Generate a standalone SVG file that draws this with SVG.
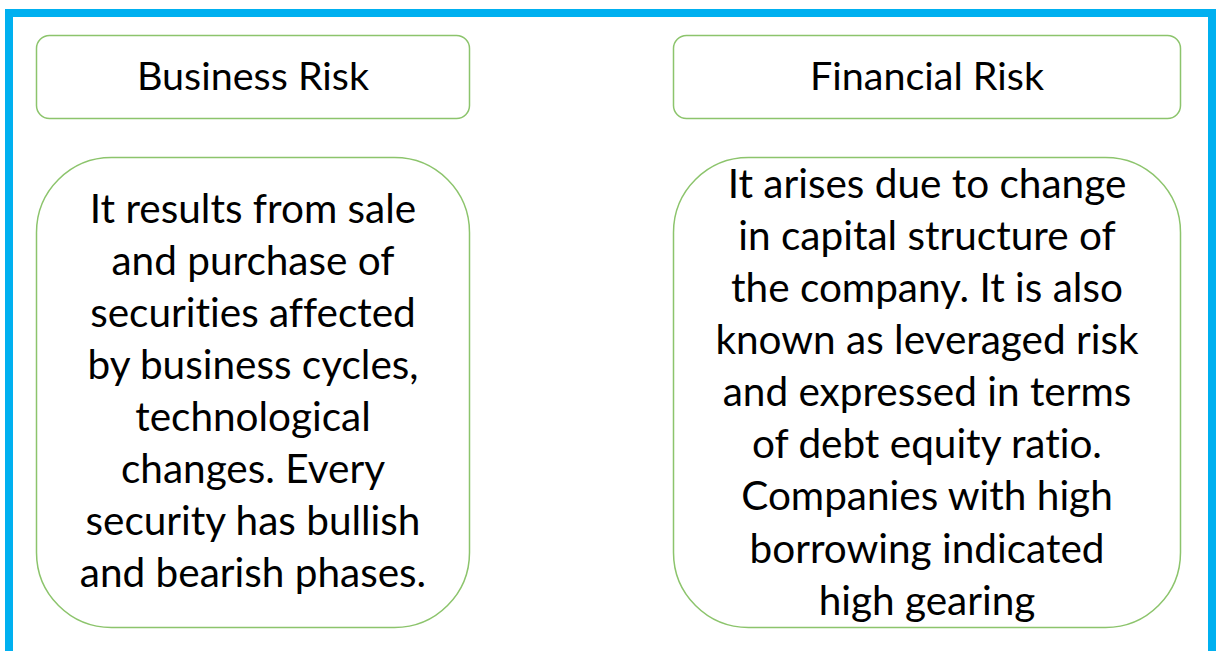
<svg xmlns="http://www.w3.org/2000/svg" width="1216" height="651" viewBox="0 0 1216 651">
<style>
.box{fill:#ffffff;stroke:#8cc46c;stroke-width:1.5}
.t{font-family:Lato,"Liberation Sans",sans-serif;fill:#000000;text-anchor:middle;font-variant-ligatures:none}
.title{font-size:39.5px}
.body{font-size:40.5px}
</style>
<rect x="0" y="0" width="1216" height="651" fill="#ffffff"/>
<rect x="9" y="13" width="1203" height="642" fill="none" stroke="#00b0f0" stroke-width="8"/>
<g id="business-risk-title">
<rect class="box" x="36.5" y="35.5" width="433" height="83" rx="13"/>
<text class="t title" x="253" y="90">Business Risk</text>
</g>
<g id="financial-risk-title">
<rect class="box" x="673.5" y="35.5" width="507" height="83" rx="13"/>
<text class="t title" x="927" y="90">Financial Risk</text>
</g>
<g id="business-risk-desc">
<rect class="box" x="36.5" y="157.5" width="433" height="470" rx="75"/>
<text class="t body" x="253" y="223">It results from sale</text>
<text class="t body" x="253" y="275">and purchase of</text>
<text class="t body" x="253" y="327">securities affected</text>
<text class="t body" x="253" y="379">by business cycles,</text>
<text class="t body" x="253" y="431">technological</text>
<text class="t body" x="253" y="483">changes. Every</text>
<text class="t body" x="253" y="535">security has bullish</text>
<text class="t body" x="253" y="587">and bearish phases.</text>
</g>
<g id="financial-risk-desc">
<rect class="box" x="673.5" y="157.5" width="507" height="470" rx="75"/>
<text class="t body" x="927" y="198">It arises due to change</text>
<text class="t body" x="927" y="250">in capital structure of</text>
<text class="t body" x="927" y="302">the company. It is also</text>
<text class="t body" x="927" y="354">known as leveraged risk</text>
<text class="t body" x="927" y="406">and expressed in terms</text>
<text class="t body" x="927" y="458">of debt equity ratio.</text>
<text class="t body" x="927" y="510">Companies with high</text>
<text class="t body" x="927" y="563">borrowing indicated</text>
<text class="t body" x="927" y="615">high gearing</text>
</g>
<g id="connectors"></g>
</svg>
